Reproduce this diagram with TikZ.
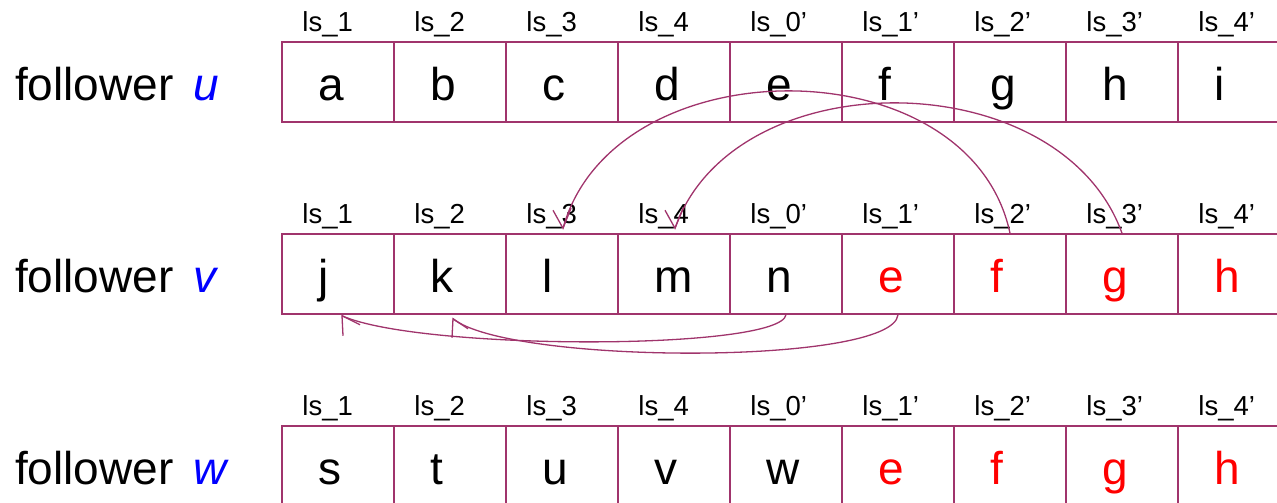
\documentclass[tikz,border=0pt]{standalone}
\usepackage{fontspec}
\setmainfont{Liberation Sans}
\usetikzlibrary{calc}
\definecolor{linec}{RGB}{160,52,108}
\begin{document}
\begin{tikzpicture}[x=1pt,y=-1pt,
  cell/.style={draw=linec, line width=1.5pt, rectangle, minimum width=112pt, minimum height=80pt,
    inner xsep=36pt, inner ysep=0pt, text width=40pt, align=left, text height=58pt, text depth=22pt,
    font=\fontsize{46}{46}\selectfont},
  lab/.style={anchor=base west, inner sep=0pt, font=\fontsize{27.5}{27.5}\selectfont},
  rowlab/.style={anchor=base west, inner sep=0pt, font=\fontsize{46}{46}\selectfont},
  conn/.style={draw=linec, line width=1.3pt},
  barb/.style={draw=linec, line width=1.3pt, line join=miter}]
\useasboundingbox (0,0) rectangle (1277,503);
\clip (0,0) rectangle (1277,503);
% row labels
\node[rowlab] (fu) at (15,100) {follower\hspace{20pt}\textcolor{blue}{\itshape u}};
\node[rowlab] (fv) at (15,292) {follower\hspace{20pt}\textcolor{blue}{\itshape v}};
\node[rowlab] (fw) at (15,484) {follower\hspace{20pt}\textcolor{blue}{\itshape w}};
% cells
\foreach \i/\l/\c in {1/a/black,2/b/black,3/c/black,4/d/black,5/e/black,6/f/black,7/g/black,8/h/black,9/i/black}
  \node[cell, text=\c] (u\i) at ({338+112*(\i-1)},82) {\l};
\foreach \i/\l/\c in {1/j/black,2/k/black,3/l/black,4/m/black,5/n/black,6/e/red,7/f/red,8/g/red,9/h/red}
  \node[cell, text=\c] (v\i) at ({338+112*(\i-1)},274) {\l};
\foreach \i/\l/\c in {1/s/black,2/t/black,3/u/black,4/v/black,5/w/black,6/e/red,7/f/red,8/g/red,9/h/red}
  \node[cell, text=\c] (w\i) at ({338+112*(\i-1)},466) {\l};
% position labels
\foreach \i/\t in {1/ls\_1,2/ls\_2,3/ls\_3,4/ls\_4,5/ls\_0’,6/ls\_1’,7/ls\_2’,8/ls\_3’,9/ls\_4’}{
  \node[lab] (lu\i) at ($(u\i.north west)+(21,-10)$) {\t};
  \node[lab] (lv\i) at ($(v\i.north west)+(21,-10)$) {\t};
  \node[lab] (lw\i) at ($(w\i.north west)+(21,-10)$) {\t};
}
% arrow tips
\coordinate (ta) at ($(v3.north)+(1,-5)$);
\coordinate (tb) at ($(v4.north)+(1,-5)$);
\coordinate (tc) at ($(v1.south)+(4,1)$);
\coordinate (td) at ($(v2.south)+(3,4)$);
% connectors
\draw[conn] (v7.north) .. controls +(-40,-189) and +(51,-184) .. (ta);
\draw[conn] (v8.north) .. controls +(-62,-172) and +(59,-169) .. (tb);
\draw[conn] (v5.south) .. controls +(-6,36) and +(78,35) .. (tc);
\draw[conn] (v6.south) .. controls +(-5,51) and +(57,46) .. (td);
% arrowheads
\draw[barb] ($(ta)+(-10,-18)$) -- (ta) -- ($(ta)+(8,-20)$);
\draw[barb] ($(tb)+(-10,-18)$) -- (tb) -- ($(tb)+(8,-20)$);
\draw[barb] ($(tc)+(1,20)$) -- (tc) -- ($(tc)+(18,9)$);
\draw[barb] ($(td)+(-1,19)$) -- (td) -- ($(td)+(15,10)$);
\end{tikzpicture}
\end{document}
